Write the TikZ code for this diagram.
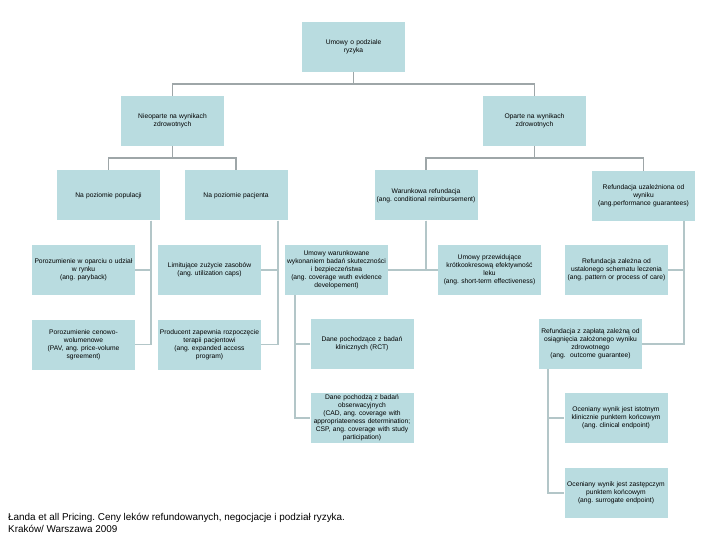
\documentclass[tikz,border=0pt]{standalone}
\usepackage{fontspec}
\setmainfont{Liberation Sans}
\usepackage{xcolor}
\usepackage{tikz}
\usetikzlibrary{positioning}
\frenchspacing

\definecolor{boxfill}{HTML}{B9DCE0}
\definecolor{toplink}{HTML}{9EA6A8}
\definecolor{sublink}{HTML}{B3C6C8}

\begin{document}
\begin{tikzpicture}[
  x=1pt, y=-1pt,
  box/.style={fill=boxfill, minimum width=103pt, minimum height=50pt,
    text width=102pt, align=center, inner sep=0.5pt,
    font=\fontsize{6.7}{8}\selectfont},
  link/.style={draw=toplink, line width=1.6pt},
  sublinkstyle/.style={draw=sublink, line width=1.6pt}
]
\useasboundingbox (0,0) rectangle (720,540);

% Top levels
\node[box] (root) at (353.5,47) {Umowy o podziale\\ryzyka};
\node[box] (nie) at (172.5,121) {Nieoparte na wynikach\\zdrowotnych};
\node[box] (opa) at (534.5,121) {Oparte na wynikach\\zdrowotnych};

% Third level
\node[box] (pop) at (108.5,195.5) {Na poziomie populacji};
\node[box] (pac) at (236,195.5) {Na poziomie pacjenta};
\node[box] (war) at (426,195.5) {Warunkowa refundacja\\(ang. conditional reimbursement)};
\node[box] (uza) at (643.5,196) {Refundacja uzależniona od\\wyniku\\(ang.performance guarantees)};

% Fourth level
\node[box] (por) at (83.5,270) {Porozumienie w oparciu o udział\\w rynku\\(ang. paryback)};
\node[box] (lim) at (209.5,270) {Limitujące zużycie zasobów\\(ang. utilization caps)};
\node[box] (uww) at (336.5,270) {Umowy warunkowane\\wykonaniem badań skuteczności\\i bezpieczeństwa\\(ang. coverage wuth evidence\\developement)};
\node[box] (prz) at (489.5,270) {Umowy przewidujące\\krótkookresową efektywność\\leku\\(ang. short-term effectiveness)};
\node[box] (zal) at (616.5,270) {Refundacja zależna od\\ustalonego schematu leczenia\\(ang. pattern or process of care)};

\node[box] (cen) at (83.5,344.5) {Porozumienie cenowo-\\wolumenowe\\(PAV, ang. price-volume\\sgreement)};
\node[box] (pro) at (209.5,344.5) {Producent zapewnia rozpoczęcie\\terapii pacjentowi\\(ang. expanded access\\program)};
\node[box] (rct) at (362,344) {Dane pochodzące z badań\\klinicznych (RCT)};
\node[box] (zap) at (590.5,344) {Refundacja z zapłatą zależną od\\osiągnięcia założonego wyniku\\zdrowotnego\\(ang.\ \ outcome guarantee)};

% Fifth level
\node[box] (obs) at (362,418) {Dane pochodzą z badań\\obserwacyjnych\\(CAD, ang. coverage with\\appropriateeness determination;\\CSP, ang. coverage with study\\participation)};
\node[box] (ist) at (616,418) {Oceniany wynik jest istotnym\\klinicznie punktem końcowym\\(ang. clinical endpoint)};
\node[box] (zas) at (616,493) {Oceniany wynik jest zastępczym\\punktem końcowym\\(ang. surrogate endpoint)};

% Source
\node[anchor=north west, align=left, inner sep=0pt,
  font=\fontsize{9.9}{12}\selectfont] (src) at (8,513)
  {Łanda et all Pricing. Ceny leków refundowanych, negocjacje i podział ryzyka.\\Kraków/ Warszawa 2009};

% Upper connectors
\draw[link] (root.south) -- ++(0,12) -| (nie.north);
\draw[link] (root.south) -- ++(0,12) -| (opa.north);
\draw[link] (nie.south) -- ++(0,12) -| (pop.north);
\draw[link] (nie.south) -- ++(0,12) -| (pac.north);
\draw[link] (opa.south) -- ++(0,12) -| (war.north);
\draw[link] (opa.south) -- ++(0,12) -| (uza.north);

% Lower connectors
\draw[sublinkstyle] ([xshift=-9pt]pop.south east) |- (por.east);
\draw[sublinkstyle] ([xshift=-9pt]pop.south east) |- (cen.east);
\draw[sublinkstyle] ([xshift=-10pt]pac.south east) |- (lim.east);
\draw[sublinkstyle] ([xshift=-10pt]pac.south east) |- (pro.east);
\draw[sublinkstyle] (war.south) |- (uww.east);
\draw[sublinkstyle] (war.south) |- (prz.west);
\draw[sublinkstyle] ([xshift=10pt]uww.south west) |- (rct.west);
\draw[sublinkstyle] ([xshift=10pt]uww.south west) |- (obs.west);
\draw[sublinkstyle] ([xshift=-11pt]uza.south east) |- (zal.east);
\draw[sublinkstyle] ([xshift=-11pt]uza.south east) |- (zap.east);
\draw[sublinkstyle] ([xshift=9pt]zap.south west) |- (ist.west);
\draw[sublinkstyle] ([xshift=9pt]zap.south west) |- (zas.west);

\end{tikzpicture}
\end{document}
